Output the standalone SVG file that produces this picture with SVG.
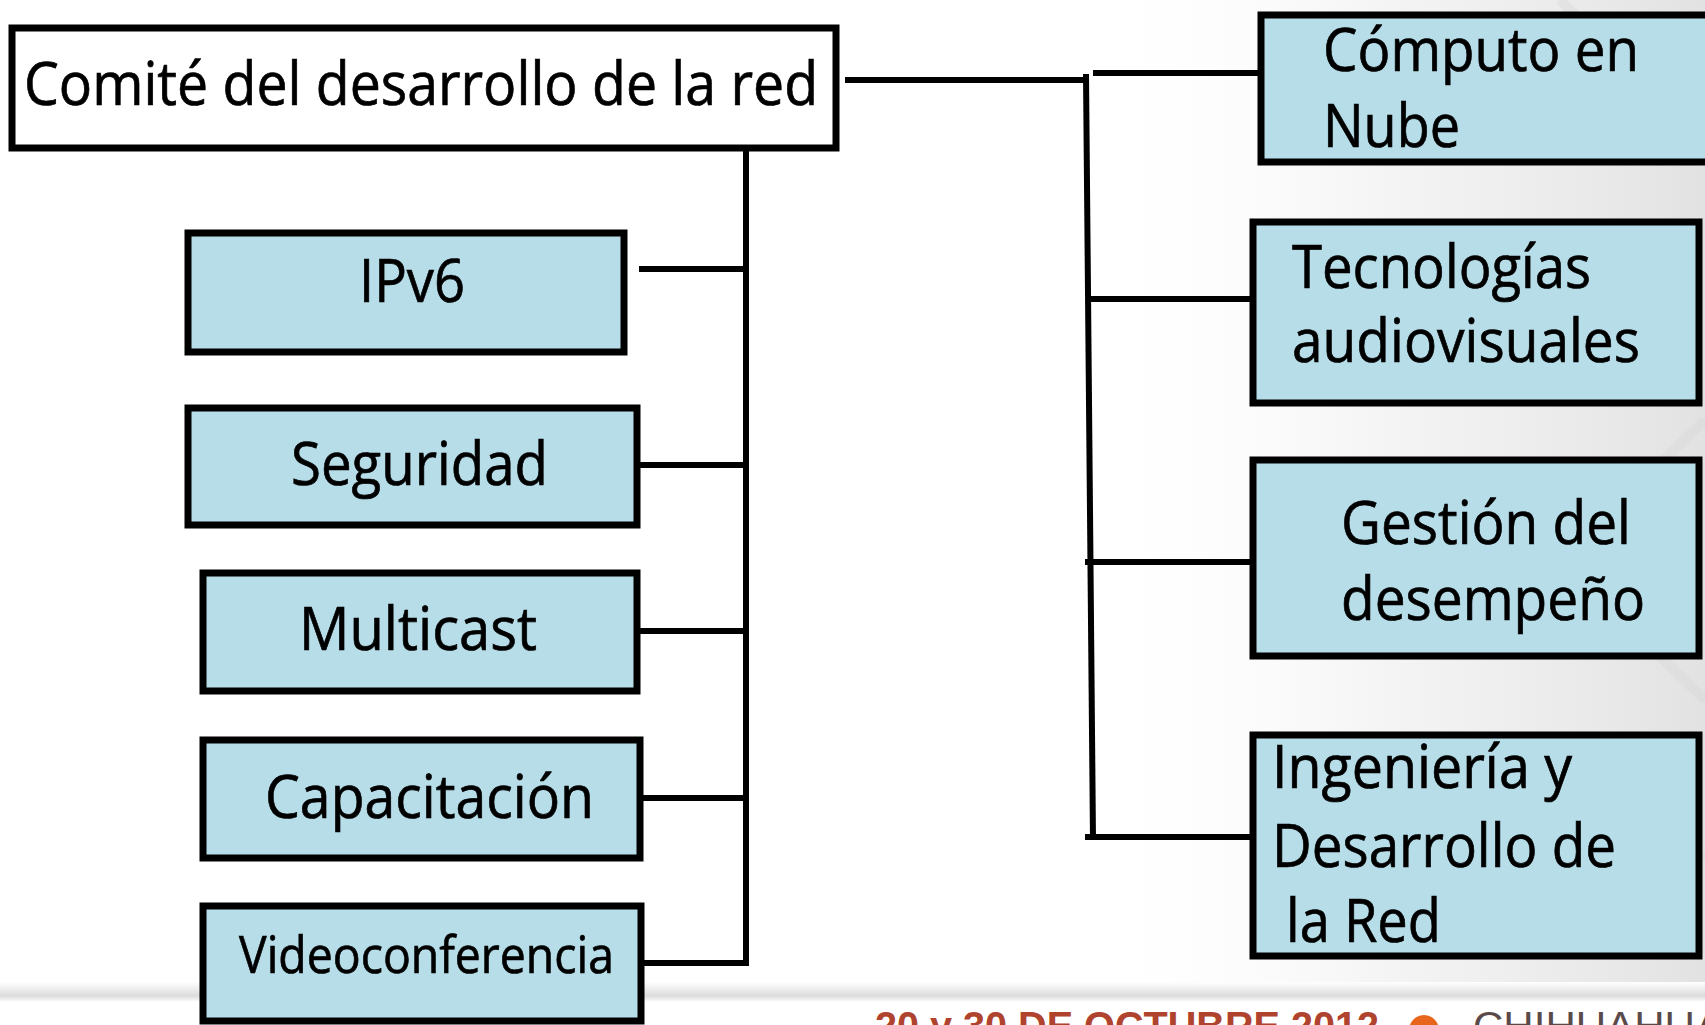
<svg xmlns="http://www.w3.org/2000/svg" width="1705" height="1025" viewBox="0 0 1705 1025">
<defs>
<linearGradient id="bgR" x1="0" y1="0" x2="1" y2="0">
<stop offset="0" stop-color="#ffffff" stop-opacity="0"/>
<stop offset="0.5" stop-color="#efefef" stop-opacity="0.7"/>
<stop offset="1" stop-color="#e2e2e2" stop-opacity="1"/>
</linearGradient>
<linearGradient id="foot" x1="0" y1="0" x2="0" y2="1">
<stop offset="0" stop-color="#ffffff"/>
<stop offset="0.7" stop-color="#dcdcdc"/>
<stop offset="1" stop-color="#ffffff"/>
</linearGradient>
<style>
.box{fill:#B7DDE8;stroke:#000;stroke-width:7}
.top{fill:#ffffff;stroke:#000;stroke-width:7}
.t{font-family:"Open Sans","Noto Sans",sans-serif;font-size:60px;fill:#000;stroke:#000;stroke-width:0.7}
.ln{stroke:#000;stroke-width:6;fill:none}
</style>
</defs>
<rect x="0" y="0" width="1705" height="1025" fill="#ffffff"/>
<rect x="1080" y="0" width="625" height="990" fill="url(#bgR)"/>
<g stroke="#d8d8d8" stroke-width="10" opacity="0.4" fill="none">
<path d="M1560 0 L1705 140"/>
<path d="M1705 420 L1560 560 L1705 700"/>
<path d="M1620 770 L1705 860"/>
</g>
<rect x="0" y="982" width="1705" height="20" fill="url(#foot)"/>
<g id="footer">
<text x="875" y="1040" font-family="'Liberation Sans Narrow','Liberation Sans',sans-serif" font-weight="bold" font-size="40" fill="#B0432E" textLength="504" lengthAdjust="spacingAndGlyphs">20 y 30 DE OCTUBRE 2012</text>
<circle cx="1424" cy="1030" r="15" fill="#E8661C"/>
<text x="1473" y="1040" font-family="'Liberation Sans',sans-serif" font-size="40" fill="#5a4a4a" textLength="250" lengthAdjust="spacingAndGlyphs">CHIHUAHUA</text>
</g>
<g id="connectors">
<line x1="746" y1="149" x2="746" y2="966" class="ln"/>
<line x1="639" y1="269" x2="749" y2="269" class="ln"/>
<line x1="640" y1="465" x2="749" y2="465" class="ln"/>
<line x1="640" y1="631" x2="749" y2="631" class="ln"/>
<line x1="643" y1="798" x2="749" y2="798" class="ln"/>
<line x1="644" y1="963" x2="749" y2="963" class="ln"/>
<line x1="845" y1="80" x2="1089" y2="80" class="ln"/>
<line x1="1086" y1="74" x2="1093" y2="840" class="ln"/>
<line x1="1093" y1="73" x2="1258" y2="73" class="ln"/>
<line x1="1088" y1="299" x2="1250" y2="299" class="ln"/>
<line x1="1085" y1="562" x2="1250" y2="562" class="ln"/>
<line x1="1085" y1="837" x2="1250" y2="837" class="ln"/>
</g>
<g id="node-comite">
<rect class="top" x="12" y="28" width="824" height="120"/>
<text class="t" x="24" y="105" textLength="794" lengthAdjust="spacingAndGlyphs">Comité del desarrollo de la red</text>
</g>
<g id="node-ipv6">
<rect class="box" x="188" y="233" width="436" height="119"/>
<text class="t" x="359" y="302" textLength="106" lengthAdjust="spacingAndGlyphs">IPv6</text>
</g>
<g id="node-seguridad">
<rect class="box" x="188" y="408" width="449" height="117"/>
<text class="t" x="291" y="485" textLength="257" lengthAdjust="spacingAndGlyphs">Seguridad</text>
</g>
<g id="node-multicast">
<rect class="box" x="203" y="573" width="434" height="118"/>
<text class="t" x="299" y="650" textLength="238" lengthAdjust="spacingAndGlyphs">Multicast</text>
</g>
<g id="node-capacitacion">
<rect class="box" x="203" y="740" width="437" height="118"/>
<text class="t" x="265" y="818" textLength="329" lengthAdjust="spacingAndGlyphs">Capacitación</text>
</g>
<g id="node-videoconferencia">
<rect class="box" x="203" y="906" width="438" height="115"/>
<text class="t" x="239" y="973" textLength="375" lengthAdjust="spacingAndGlyphs" style="font-size:52px">Videoconferencia</text>
</g>
<g id="node-computo">
<rect class="box" x="1261" y="15" width="470" height="147"/>
<text class="t" x="1323" y="71" textLength="316" lengthAdjust="spacingAndGlyphs">Cómputo en</text>
<text class="t" x="1323" y="147" textLength="137" lengthAdjust="spacingAndGlyphs">Nube</text>
</g>
<g id="node-tecnologias">
<rect class="box" x="1253" y="222" width="446" height="181"/>
<text class="t" x="1292" y="288" textLength="299" lengthAdjust="spacingAndGlyphs">Tecnologías</text>
<text class="t" x="1292" y="362" textLength="348" lengthAdjust="spacingAndGlyphs">audiovisuales</text>
</g>
<g id="node-gestion">
<rect class="box" x="1253" y="460" width="446" height="196"/>
<text class="t" x="1341" y="544" textLength="290" lengthAdjust="spacingAndGlyphs">Gestión del</text>
<text class="t" x="1341" y="620" textLength="304" lengthAdjust="spacingAndGlyphs">desempeño</text>
</g>
<g id="node-ingenieria">
<rect class="box" x="1253" y="735" width="446" height="221"/>
<text class="t" x="1272" y="788" textLength="300" lengthAdjust="spacingAndGlyphs">Ingeniería y</text>
<text class="t" x="1272" y="867" textLength="344" lengthAdjust="spacingAndGlyphs">Desarrollo de</text>
<text class="t" x="1286" y="942" textLength="155" lengthAdjust="spacingAndGlyphs">la Red</text>
</g>
</svg>
